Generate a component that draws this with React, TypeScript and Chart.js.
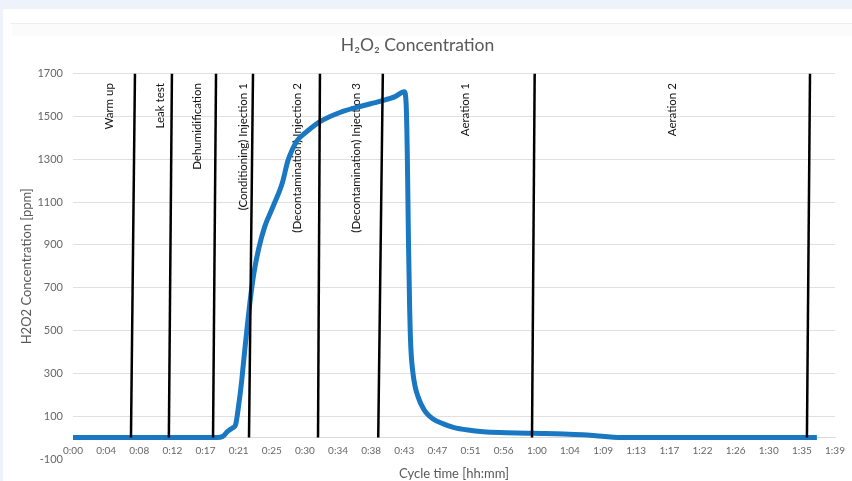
import React, { useEffect, useRef } from 'react';
import { Chart, registerables } from 'chart.js';

Chart.register(...registerables);

// ---- text ----
const TITLE = 'H₂O₂ Concentration';
const Y_TITLE = 'H2O2 Concentration [ppm]';
const X_TITLE = 'Cycle time [hh:mm]';

// ---- x axis (minutes) ----
const X_MIN = 0;
const X_MAX = 99.36;
const X_STEP = 4.32;
const X_TICK_LABELS = [
  '0:00', '0:04', '0:08', '0:12', '0:17', '0:21', '0:25', '0:30', '0:34', '0:38', '0:43', '0:47',
  '0:51', '0:56', '1:00', '1:04', '1:09', '1:13', '1:17', '1:22', '1:26', '1:30', '1:35', '1:39',
];

// ---- y axis (ppm) ----
const Y_MIN = -100;
const Y_MAX = 1700;
const Y_STEP = 200;

// ---- series: H2O2 concentration over cycle time ----
const TIME_MIN = [
  0, 5, 10, 15, 18.8, 19.5, 20.2, 20.8, 21.2, 21.6, 22.0, 22.4, 23.1, 23.6, 24.2, 25.0, 26.1,
  27.3, 28.0, 28.6, 29.3, 30.2, 32.2, 34.8, 37.4, 40.0, 42.0, 43.2, 43.45, 43.6, 43.75, 43.9,
  44.05, 44.3, 44.6, 45.0, 45.4, 46.0, 46.9, 48.2, 49.6, 51.5, 53.5, 56.5, 60.0, 64.0, 66.5,
  69.0, 72.0, 80, 90, 97.0,
];
const H2O2_PPM = [
  0, 0, 0, 0, 0, 5, 30, 45, 60, 150, 267, 410, 640, 770, 880, 985, 1080,
  1190, 1290, 1345, 1390, 1420, 1475, 1518, 1546, 1570, 1592, 1615, 1550, 1300, 900, 600,
  420, 310, 240, 190, 155, 118, 88, 65, 48, 35, 27, 23, 20, 17, 13,
  6, 0, 0, 0, 0,
];

// ---- phases ----
const PHASE_NAMES = [
  'Warm up',
  'Leak test',
  'Dehumidification',
  '(Conditioning) Injection 1',
  '(Decontamination) Injection 2',
  '(Decontamination) Injection 3',
  'Aeration 1',
  'Aeration 2',
];
const PHASE_LABEL_MIN = [4.75, 11.35, 16.2, 22.2, 29.2, 37.0, 51.1, 78.1];
const PHASE_LABEL_TOP_PPM = 1655;
const PHASE_LINE_TOP_MIN = [8.08, 12.9, 18.65, 23.47, 32.2, 40.4, 60.2, 96.1];
const PHASE_LINE_BOTTOM_MIN = [7.56, 12.5, 18.26, 22.95, 31.95, 39.8, 59.85, 95.7];
const PHASE_LINE_TOP_PPM = 1700;
const PHASE_LINE_BOTTOM_PPM = 0;

const FONT = 'Lato, "Noto Sans", sans-serif';

const phaseLabelPlugin = {
  id: 'phaseLabels',
  beforeDatasetsDraw(chart: any) {
    const { ctx, scales } = chart;
    const x = scales.x;
    const y = scales.y;
    ctx.save();
    ctx.font = `11.5px ${FONT}`;
    ctx.fillStyle = '#111111';
    ctx.textAlign = 'right';
    ctx.textBaseline = 'middle';
    PHASE_NAMES.forEach((name, i) => {
      const px = x.getPixelForValue(PHASE_LABEL_MIN[i]);
      const py = y.getPixelForValue(PHASE_LABEL_TOP_PPM);
      ctx.save();
      ctx.translate(px, py);
      ctx.rotate(-Math.PI / 2);
      ctx.fillText(name, 0, 0);
      ctx.restore();
    });
    ctx.restore();
  },
};

export default function App() {
  const canvasRef = useRef<HTMLCanvasElement | null>(null);

  useEffect(() => {
    const canvas = canvasRef.current;
    if (!canvas) return;

    const phaseDatasets = PHASE_LINE_TOP_MIN.map((top, i) => ({
      label: PHASE_NAMES[i],
      data: [
        { x: top, y: PHASE_LINE_TOP_PPM },
        { x: PHASE_LINE_BOTTOM_MIN[i], y: PHASE_LINE_BOTTOM_PPM },
      ],
      borderColor: '#000000',
      borderWidth: 2.5,
      pointRadius: 0,
      tension: 0,
      order: 0,
    }));

    const seriesDataset = {
      label: 'H2O2',
      data: TIME_MIN.map((t, i) => ({ x: t, y: H2O2_PPM[i] })),
      borderColor: '#1a78c2',
      borderWidth: 5,
      pointRadius: 0,
      cubicInterpolationMode: 'monotone' as const,
      borderCapStyle: 'butt' as const,
      borderJoinStyle: 'round' as const,
      order: 1,
    };

    const chart = new Chart(canvas, {
      type: 'line',
      data: { datasets: [...phaseDatasets, seriesDataset] },
      options: {
        animation: false,
        responsive: false,
        maintainAspectRatio: false,
        layout: { padding: { left: 0, right: 17, top: 0, bottom: 22 } },
        plugins: {
          legend: { display: false },
          tooltip: { enabled: false },
          title: {
            display: true,
            text: TITLE,
            color: '#595959',
            font: { family: FONT, size: 17.5, weight: 'normal' },
            padding: { top: 34.5, bottom: 18 },
          },
        },
        scales: {
          x: {
            type: 'linear',
            min: X_MIN,
            max: X_MAX,
            position: { y: 0 } as any,
            grid: { display: false, drawTicks: false },
            border: { display: true, color: '#d9d9d9', width: 1 },
            ticks: {
              stepSize: X_STEP,
              autoSkip: false,
              maxRotation: 0,
              padding: 7,
              color: '#666666',
              font: { family: FONT, size: 10 },
              callback: (_v: any, index: number) => X_TICK_LABELS[index] ?? '',
            },
            title: {
              display: true,
              text: X_TITLE,
              color: '#595959',
              font: { family: FONT, size: 13 },
              padding: { top: 0, bottom: -22.2 },
            },
            afterFit: (scale: any) => {
              scale.height = 22;
            },
          },
          y: {
            type: 'linear',
            min: Y_MIN,
            max: Y_MAX,
            grid: {
              drawTicks: false,
              color: (ctx: any) => (ctx.tick && ctx.tick.value === Y_MIN ? 'rgba(0,0,0,0)' : '#e0e0e0'),
              lineWidth: 1,
            },
            border: { display: false },
            ticks: {
              stepSize: Y_STEP,
              padding: 10,
              color: '#666666',
              font: { family: FONT, size: 11 },
              callback: (v: any) => String(v),
            },
            title: {
              display: true,
              text: Y_TITLE,
              color: '#595959',
              font: { family: FONT, size: 13 },
              padding: { top: 19.2, bottom: 0 },
            },
            afterFit: (scale: any) => {
              scale.width = 73;
            },
          },
        },
      },
      plugins: [phaseLabelPlugin],
    });

    return () => chart.destroy();
  }, []);

  return (
    <div
      style={{
        position: 'fixed',
        left: 0,
        top: 0,
        width: 852,
        height: 481,
        background: '#eef2fa',
        overflow: 'hidden',
      }}
    >
      <div style={{ position: 'absolute', left: 3, top: 9, right: 0, bottom: 0, background: '#ffffff' }} />
      <div style={{ position: 'absolute', left: 10, top: 23, right: 0, height: 1, background: '#efefef' }} />
      <div style={{ position: 'absolute', left: 12, top: 24, right: 0, height: 12, background: '#fbfbfb' }} />
      <canvas
        ref={canvasRef}
        width={852}
        height={481}
        style={{ position: 'absolute', left: 0, top: 0, width: 852, height: 481 }}
      />
    </div>
  );
}
